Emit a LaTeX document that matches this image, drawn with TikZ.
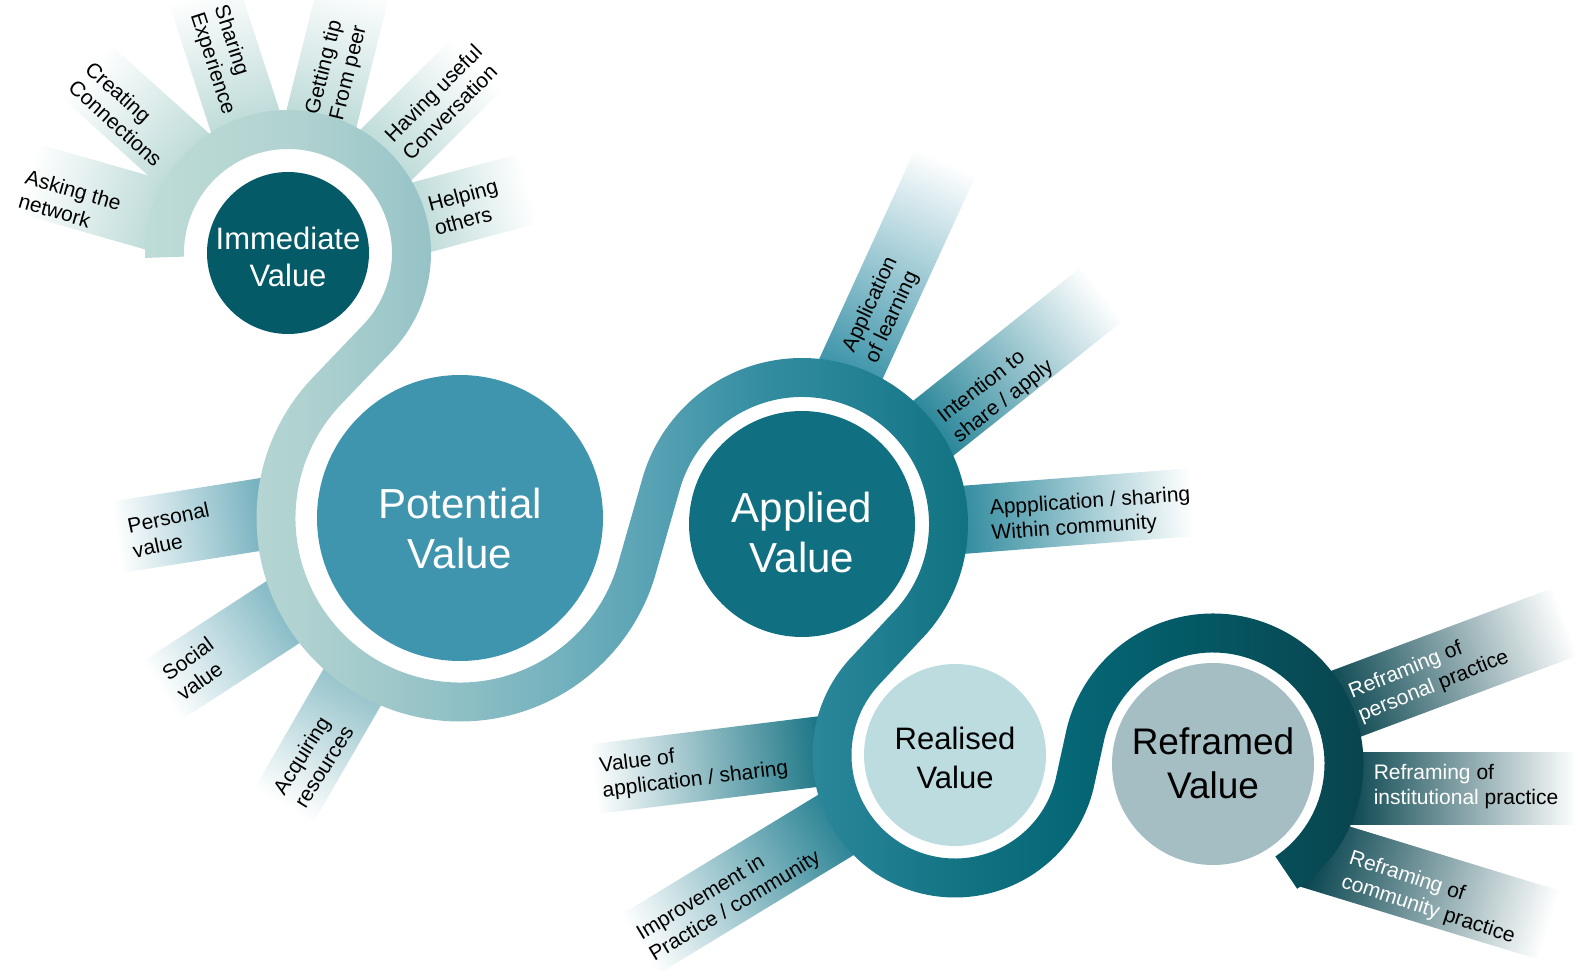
\documentclass[tikz,border=0pt]{standalone}
\usepackage{fontspec}
\setmainfont{Liberation Sans}
\usetikzlibrary{calc}

\definecolor{immediate}{RGB}{4,90,102}
\definecolor{potential}{RGB}{64,149,174}
\definecolor{applied}{RGB}{16,112,130}
\definecolor{realised}{RGB}{188,220,224}
\definecolor{reframed}{RGB}{164,190,195}

\definecolor{rayIV}{RGB}{180,214,211}
\definecolor{rayPa}{RGB}{105,170,185}
\definecolor{rayPb}{RGB}{122,180,192}
\definecolor{rayPc}{RGB}{138,189,197}
\definecolor{rayAa}{RGB}{50,142,164}
\definecolor{rayAb}{RGB}{28,126,146}
\definecolor{rayAc}{RGB}{38,133,153}
\definecolor{rayRa}{RGB}{18,112,128}
\definecolor{rayRb}{RGB}{32,125,143}
\definecolor{rayF}{RGB}{5,66,76}

\definecolor{bandA}{RGB}{190,220,215}
\definecolor{bandB}{RGB}{176,210,208}
\definecolor{bandC}{RGB}{150,195,199}
\definecolor{bandD}{RGB}{115,177,189}
\definecolor{bandE}{RGB}{88,162,180}
\definecolor{bandF}{RGB}{52,141,161}
\definecolor{bandG}{RGB}{33,128,146}
\definecolor{bandH}{RGB}{18,115,130}
\definecolor{bandI}{RGB}{6,103,118}
\definecolor{bandJ}{RGB}{4,88,100}
\definecolor{bandK}{RGB}{9,68,77}

\pgfdeclarehorizontalshading{band}{100bp}{color(0bp)=(bandA); color(26.7bp)=(bandA);
  color(32.7bp)=(bandB); color(37.7bp)=(bandC); color(42.7bp)=(bandD); color(46.2bp)=(bandE);
  color(50.4bp)=(bandF); color(54.6bp)=(bandG); color(58.1bp)=(bandH); color(62.3bp)=(bandI);
  color(67.3bp)=(bandJ); color(73.6bp)=(bandK); color(100bp)=(bandK)}

\begin{document}
\begin{tikzpicture}[x=1pt,y=1pt,
        value/.style={circle,inner sep=0pt},
        valuetext/.style={align=center,inner sep=0pt},
        raytext/.style={align=left,inner sep=0pt,font=\fontsize{21}{25}\selectfont},
        spoke/.style 2 args={transform canvas={shift={#1},rotate=#2}}]
    \useasboundingbox (0,0) rectangle (1575,970);

    \node[value,fill=immediate,minimum size=162pt] (iv) at (288,717) {};
    \node[value,fill=potential,minimum size=286pt] (pv) at (460,452) {};
    \node[value,fill=applied,minimum size=226pt] (av) at (802,446) {};
    \node[value,fill=realised,minimum size=182pt] (rv) at (955,215) {};
    \node[value,fill=reframed,minimum size=202pt] (fv) at (1213,206) {};

    \node[valuetext,text=white,font=\fontsize{31}{37}\selectfont] (ivtext) at ([yshift=-4pt]iv.center) {Immediate\\Value};
    \node[valuetext,text=white,font=\fontsize{42}{50}\selectfont] (pvtext) at ([yshift=-10pt]pv.center) {Potential\\Value};
    \node[valuetext,text=white,font=\fontsize{42}{50}\selectfont] (avtext) at ([yshift=-8pt]av.center) {Applied\\Value};
    \node[valuetext,font=\fontsize{31}{39}\selectfont] (rvtext) at ([yshift=-3pt]rv.center) {Realised\\Value};
    \node[valuetext,font=\fontsize{37}{44}\selectfont] (fvtext) at ([yshift=1pt]fv.center) {Reframed\\Value};

    \shade[spoke={(iv.center)}{164},left color=rayIV,right color=white] (116,-36) rectangle (272,36);
    \shade[spoke={(iv.center)}{138},left color=rayIV,right color=white] (116,-36) rectangle (272,36);
    \shade[spoke={(iv.center)}{108},left color=rayIV,right color=white] (116,-36) rectangle (275,36);
    \shade[spoke={(iv.center)}{76},left color=rayIV,right color=white] (116,-36) rectangle (275,36);
    \shade[spoke={(iv.center)}{45},left color=rayIV,right color=white] (116,-36) rectangle (268,36);
    \shade[spoke={(iv.center)}{15},left color=rayIV,right color=white] (116,-36) rectangle (250,36);

    \shade[spoke={(276,458)}{189},left color=rayPa,right color=white] (0,-36) rectangle (162,36);
    \shade[spoke={(297,367)}{213},left color=rayPb,right color=white] (0,-35) rectangle (162,35);
    \shade[spoke={(361,298)}{240},left color=rayPc,right color=white] (0,-34) rectangle (155,34);

    \shade[spoke={(844,586)}{65.4},left color=rayAa,right color=white] (0,-33) rectangle (245,33);
    \shade[spoke={(921,532)}{38.5},left color=rayAb,right color=white] (0,-34) rectangle (232,34);
    \shade[spoke={(948,449)}{4.4},left color=rayAc,right color=white] (0,-34) rectangle (245,34);

    \shade[spoke={(831,220)}{187},left color=rayRa,right color=white] (0,-35) rectangle (240,35);
    \shade[spoke={(849,153)}{211.3},left color=rayRb,right color=white] (0,-35) rectangle (245,35);

    \shade[spoke={(1332,261)}{20.5},left color=rayF,middle color=rayF!75,right color=white] (0,-36) rectangle (250,36);
    \shade[spoke={(1342,181)}{0},left color=rayF,middle color=rayF!75,right color=white] (0,-36) rectangle (235,36);
    \shade[spoke={(1310,118)}{-17},left color=rayF,middle color=rayF!75,right color=white] (0,-36) rectangle (250,36);

    \shade[shading=band] (100,480) (1400,480)
        ($(iv)+(182:104)$) arc[start angle=182,end angle=-44.32,radius=104]
        -- ($(pv)+(135.68:203.5)$) arc[start angle=135.68,end angle=343.89,radius=203.5]
        -- ($(av)+(163.89:127)$) arc[start angle=163.89,end angle=-44.37,radius=127]
        -- ($(rv)+(135.63:142.5)$) arc[start angle=135.63,end angle=346.3,radius=142.5]
        -- ($(fv)+(166.3:111.5)$) arc[start angle=166.3,end angle=-56,radius=111.5]
        -- ($(fv)+(-56:150.5)$) arc[start angle=-56,end angle=166.3,radius=150.5]
        -- ($(rv)+(346.3:103.5)$) arc[start angle=346.3,end angle=135.63,radius=103.5]
        -- ($(av)+(-44.37:166)$) arc[start angle=-44.37,end angle=163.89,radius=166]
        -- ($(pv)+(343.89:164.5)$) arc[start angle=343.89,end angle=135.68,radius=164.5]
        -- ($(iv)+(-44.32:143)$) arc[start angle=-44.32,end angle=182,radius=143]
        -- cycle;

    \node[raytext,rotate=-16] (asking) at (70,768) {Asking the\\network};
    \node[raytext,rotate=-42] (creating) at (124,856) {Creating\\Connections};
    \node[raytext,rotate=-72] (sharing) at (224,910) {Sharing\\Experience};
    \node[raytext,rotate=76] (gettingtip) at (337,900) {Getting tip\\From peer};
    \node[raytext,rotate=45] (useful) at (442,868) {Having useful\\Conversation};
    \node[raytext,rotate=15] (helping) at (466,763) {Helping\\others};

    \node[raytext,rotate=12] (personal) at (171,440) {Personal\\value};
    \node[raytext,rotate=36] (social) at (195,301) {Social\\value};
    \node[raytext,rotate=58] (acquiring) at (313,210) {Acquiring\\resources};

    \node[raytext,rotate=65] (learning) at (882,660) {Application\\of learning};
    \node[raytext,rotate=38] (intention) at (996,578) {Intention to\\share / apply};
    \node[raytext,rotate=4] (within) at (1091,455) {Appplication / sharing\\Within community};

    \node[raytext,rotate=7] (valueof) at (694,202) {Value of\\application / sharing};
    \node[raytext,rotate=31] (improvement) at (729,74) {Improvement in\\Practice / community};

    \node[raytext,rotate=22] (personalpr) at (1429,295) {\textcolor{white}{Reframing} of\\\textcolor{white}{personal} practice};
    \node[raytext] (institutional) at (1466,183) {\textcolor{white}{Reframing} of\\\textcolor{white}{institutional} practice};
    \node[raytext,rotate=-18] (communitypr) at (1432,72) {\textcolor{white}{Reframing} of\\\textcolor{white}{community} practice};
\end{tikzpicture}
\end{document}
